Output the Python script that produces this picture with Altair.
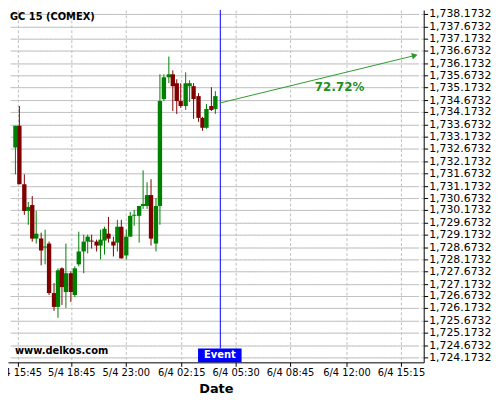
import altair as alt
import pandas as pd

# ---- data ----
opens = [1732.743, 1733.599, 1731.232, 1730.140, 1730.404, 1729.036, 1729.036, 1728.641, 1728.827, 1726.815,
         1726.236, 1727.789, 1726.827, 1727.592, 1726.697, 1727.947, 1728.511, 1728.894, 1728.933, 1728.894,
         1728.736, 1728.917, 1729.221, 1728.894, 1728.839, 1729.485, 1728.326, 1729.103, 1729.943, 1729.943,
         1730.337, 1730.337, 1730.799, 1728.827, 1730.337, 1734.715, 1735.610, 1735.728, 1735.334, 1734.624,
         1734.427, 1735.243, 1735.243, 1734.809, 1733.926, 1733.531, 1734.427, 1734.320]
highs = [1733.599, 1734.415, 1731.627, 1730.522, 1730.771, 1730.140, 1729.260, 1729.391, 1728.894, 1727.210,
         1727.789, 1727.841, 1728.799, 1727.683, 1727.880, 1729.288, 1729.193, 1729.193, 1729.193, 1728.973,
         1729.391, 1729.497, 1729.919, 1729.103, 1729.785, 1729.785, 1729.391, 1730.116, 1730.179, 1730.365,
         1731.812, 1731.311, 1731.430, 1730.680, 1735.701, 1735.701, 1736.426, 1735.898, 1735.503, 1735.334,
         1735.807, 1735.492, 1735.373, 1734.939, 1733.993, 1734.517, 1735.204, 1735.018]
lows = [1731.627, 1731.232, 1729.982, 1729.588, 1728.906, 1728.799, 1727.920, 1727.971, 1726.697, 1726.078,
        1725.778, 1726.303, 1726.173, 1726.433, 1726.618, 1727.880, 1727.616, 1728.405, 1728.602, 1728.472,
        1728.184, 1728.365, 1728.866, 1728.302, 1728.472, 1728.196, 1728.168, 1729.103, 1729.525, 1728.866,
        1730.207, 1730.219, 1728.736, 1728.499, 1729.588, 1734.624, 1735.373, 1734.230, 1734.099, 1734.348,
        1734.281, 1734.584, 1733.886, 1733.796, 1733.401, 1733.492, 1734.230, 1734.084]
closes = [1733.599, 1731.232, 1730.140, 1730.325, 1729.036, 1729.221, 1728.523, 1728.708, 1726.815, 1726.236,
          1727.722, 1727.024, 1727.592, 1726.827, 1727.789, 1728.511, 1728.894, 1729.103, 1728.894, 1728.736,
          1728.996, 1729.418, 1729.024, 1728.720, 1729.485, 1728.207, 1729.103, 1729.943, 1729.982, 1730.337,
          1730.416, 1730.799, 1729.024, 1730.337, 1734.624, 1735.610, 1735.728, 1735.243, 1734.624, 1734.439,
          1735.334, 1735.334, 1734.715, 1733.926, 1733.531, 1734.320, 1734.257, 1734.821]
slots = list(range(len(opens)))

x_tick_pos = [0.68, 13.18, 26.14, 39.09, 51.82, 64.77, 77.95, 90.91]
x_tick_labels = ["5/4 15:45", "5/4 18:45", "5/4 23:00", "6/4 02:15",
                 "6/4 05:30", "6/4 08:45", "6/4 12:00", "6/4 15:15"]
y_ticks = [1724.1732, 1724.6732, 1725.1732, 1725.6732, 1726.1732, 1726.6732, 1727.1732, 1727.6732,
           1728.1732, 1728.6732, 1729.1732, 1729.6732, 1730.1732, 1730.6732, 1731.1732, 1731.6732,
           1732.1732, 1732.6732, 1733.1732, 1733.6732, 1734.1732, 1734.6732, 1735.1732, 1735.6732,
           1736.1732, 1736.6732, 1737.1732, 1737.6732, 1738.1732]

event_slot = [48.1]
event_label = ["Event"]
arrow_start = [48.1, 1734.545]
arrow_end = [94.1, 1736.477]
pct_text = ["72.72%"]
pct_pos = [76.4, 1735.18]
chart_title = ["GC 15 (COMEX)"]
watermark = ["www.delkos.com"]

# ---- styling ----
FONT = "DejaVu Sans"
GREEN = "#008000"
RED = "#800000"
GRID = "#c0c0c0"
X_DOMAIN = [-0.4545, 95.0]
Y_DOMAIN = [1723.971, 1738.34]
W, H = 420, 356

df = pd.DataFrame({"slot": slots, "open": opens, "high": highs, "low": lows, "close": closes})
df["dir"] = ["up" if c >= o else "down" for o, c in zip(opens, closes)]

xscale = alt.Scale(domain=X_DOMAIN, nice=False, zero=False, round=True)
yscale = alt.Scale(domain=Y_DOMAIN, nice=False, zero=False, round=True)
color = alt.Color("dir:N", scale=alt.Scale(domain=["up", "down"], range=[GREEN, RED]), legend=None)

# label lookup by tick value
parts = []
for p, l in zip(x_tick_pos, x_tick_labels):
    parts.append("datum.value < %s ? '%s' : " % (p + 1, l))
label_expr = "".join(parts) + "''"

x_axis = alt.Axis(values=x_tick_pos, tickCount=len(x_tick_pos), labelExpr=label_expr, title="Date",
                  grid=True, gridColor=GRID, gridDash=[3, 2], gridWidth=1,
                  domainColor="#000000", tickColor="#000000", tickSize=4,
                  labelFont=FONT, labelFontSize=10, labelColor="#000000", labelPadding=1,
                  labelOverlap=False,
                  titleFont=FONT, titleFontSize=13, titleFontWeight="bold", titleColor="#000000",
                  titlePadding=5)
y_axis = alt.Axis(orient="right", values=y_ticks, tickCount=len(y_ticks), format=",.4f", title="",
                  grid=True, gridColor=GRID, gridDash=[3, 2], gridWidth=1,
                  domainColor="#000000", tickColor="#000000", tickSize=4,
                  labelFont=FONT, labelFontSize=11, labelColor="#000000", labelPadding=1,
                  labelOverlap=False)

# horizontal dashed grid drawn as line segments (one per labelled price)
hl_y = [v for v in y_ticks for _ in range(2)]
hl_x = [X_DOMAIN[0], X_DOMAIN[1]] * len(y_ticks)
hl_df = pd.DataFrame({"gx": hl_x, "gy": hl_y, "gid": [str(v) for v in hl_y]})
hgrid = alt.Chart(hl_df).mark_line(color=GRID, strokeWidth=1, strokeDash=[3, 2], yOffset=0.5,
                                   interpolate="linear").encode(
    x=alt.X("gx:Q", scale=xscale, axis=x_axis),
    y=alt.Y("gy:Q", scale=yscale, axis=y_axis),
    detail="gid:N",
)

wicks = alt.Chart(df).mark_rule(strokeWidth=1, xOffset=0.5).encode(
    x=alt.X("slot:Q"),
    y=alt.Y("low:Q"),
    y2="high:Q",
    color=color,
)
bodies = alt.Chart(df).mark_bar(size=4.4, xOffset=0.5).encode(
    x=alt.X("slot:Q"),
    y=alt.Y("open:Q"),
    y2="close:Q",
    color=color,
)

ev_df = pd.DataFrame({"slot": event_slot, "label": event_label})
event_line = alt.Chart(ev_df).mark_rule(color="#0000ff", strokeWidth=1, xOffset=0.5).encode(
    x=alt.X("slot:Q"),
    y=alt.value(0), y2=alt.value(H - 14),
)
event_box = alt.Chart(ev_df).mark_rect(color="#0000ff").encode(
    x=alt.value(192), x2=alt.value(236), y=alt.value(H - 14), y2=alt.value(H),
)
event_text = alt.Chart(ev_df).mark_text(font=FONT, fontSize=10, fontWeight="bold", color="#ffffff",
                                        align="center", baseline="middle").encode(
    x=alt.value(214), y=alt.value(H - 7), text="label:N",
)

arr_df = pd.DataFrame({"x1": [arrow_start[0]], "y1": [arrow_start[1]],
                       "x2": [arrow_end[0]], "y2": [arrow_end[1]]})
arrow = alt.Chart(arr_df).mark_rule(color="#2e9a2e", strokeWidth=1).encode(
    x=alt.X("x1:Q"), x2="x2:Q",
    y=alt.Y("y1:Q"), y2="y2:Q",
)
head = alt.Chart(arr_df).mark_point(shape="triangle-right", filled=True, size=45,
                                    color="#2e9a2e", opacity=1, angle=346).encode(
    x=alt.X("x2:Q"),
    y=alt.Y("y2:Q"),
)
pct_df = pd.DataFrame({"x": [pct_pos[0]], "y": [pct_pos[1]], "t": pct_text})
pct = alt.Chart(pct_df).mark_text(font=FONT, fontSize=12, fontWeight="bold", color="#1f8f1f",
                                  align="center", baseline="middle").encode(
    x=alt.X("x:Q"),
    y=alt.Y("y:Q"),
    text="t:N",
)

title_df = pd.DataFrame({"t": chart_title})
title = alt.Chart(title_df).mark_text(font=FONT, fontSize=10, fontWeight="bold", color="#000000",
                                      align="left", baseline="middle").encode(
    x=alt.value(2), y=alt.value(7), text="t:N",
)
wm_df = pd.DataFrame({"t": watermark})
wm = alt.Chart(wm_df).mark_text(font=FONT, fontSize=10, fontWeight="bold", color="#000000",
                                align="left", baseline="middle").encode(
    x=alt.value(7), y=alt.value(H - 11), text="t:N",
)

chart = alt.layer(
    hgrid, wicks, bodies, event_line, arrow, head, pct, title, wm,
    event_box, event_text
).properties(
    width=W, height=H,
    background="#ffffff",
    autosize=alt.AutoSizeParams(type="none"),
    padding={"left": 0, "top": 0, "right": 69, "bottom": 32},
).configure_view(stroke=None)

chart.save("out.html", embed_options={"renderer": "svg", "actions": False})
